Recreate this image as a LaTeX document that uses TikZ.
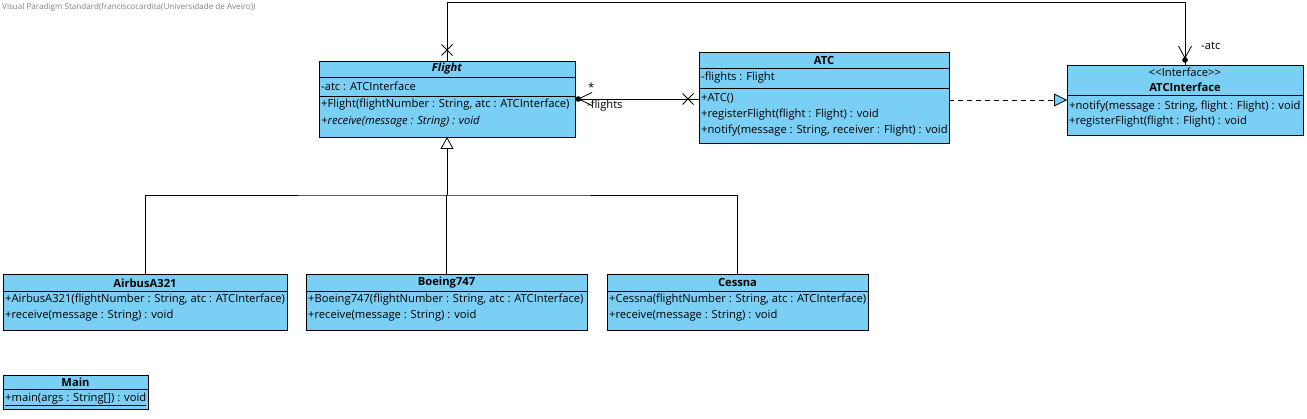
\documentclass[tikz,border=0pt]{standalone}
\usepackage{fontspec}
\setmainfont{Open Sans}
\usetikzlibrary{arrows.meta,calc}
\definecolor{vpblue}{RGB}{122,207,245}
\begin{document}
\begin{tikzpicture}[x=1pt,y=-1pt,
  cls/.style={draw=black, fill=vpblue, line width=0.8pt, anchor=north west, inner sep=0pt, outer sep=0pt},
  txt/.style={anchor=west, inner sep=0pt, font=\fontsize{11.2}{13}\selectfont},
  ttl/.style={anchor=center, inner sep=0pt, font=\fontsize{11.2}{13}\selectfont\bfseries},
  sep/.style={line width=0.8pt},
  conn/.style={line width=0.8pt},
  ]
\useasboundingbox (0,0) rectangle (1307,419);

\node[anchor=west, inner sep=0pt, text=black!50, font=\fontsize{8.1}{9}\selectfont] (wm) at (2,7) {Visual Paradigm Standard(franciscocardita(Universidade de Aveiro))};

% Flight
\node[cls, minimum width=256pt, minimum height=76pt] (flight) at (319,61) {};
\node[ttl] (flightT) at (447,68.5) {\itshape Flight};
\draw[sep] (319,77) -- (575,77);
\draw[sep] (319,96) -- (575,96);
\node[txt] (flightA) at (321,86.5) {-atc : ATCInterface};
\node[txt] (flightM1) at (321,105) {+Flight(flightNumber : String, atc : ATCInterface)};
\node[txt] (flightM2) at (321,121.5) {\itshape +receive(message : String) : void};

% ATC
\node[cls, minimum width=250pt, minimum height=91pt] (atc) at (699,52) {};
\node[ttl] (atcT) at (824,60.5) {ATC};
\draw[sep] (699,68.5) -- (949,68.5);
\draw[sep] (699,88) -- (949,88);
\node[txt] (atcA) at (701,78) {-flights : Flight};
\node[txt] (atcM1) at (701,98) {+ATC()};
\node[txt] (atcM2) at (701,114.5) {+registerFlight(flight : Flight) : void};
\node[txt] (atcM3) at (701,130.5) {+notify(message : String, receiver : Flight) : void};

% ATCInterface
\node[cls, minimum width=236pt, minimum height=70pt] (atci) at (1067,65) {};
\node[txt, anchor=center] (atciS) at (1185,72) {{<}{<}Interface{>}{>}};
\node[ttl] (atciT) at (1185,87.5) {ATCInterface};
\draw[sep] (1067,95) -- (1303,95);
\node[txt] (atciM1) at (1069,106.5) {+notify(message : String, flight : Flight) : void};
\node[txt] (atciM2) at (1069,122) {+registerFlight(flight : Flight) : void};

% AirbusA321
\node[cls, minimum width=284pt, minimum height=56pt] (airbus) at (3,274) {};
\node[ttl] (airbusT) at (145,283) {AirbusA321};
\draw[sep] (3,291) -- (287,291);
\node[txt] (airbusM1) at (5,300) {+AirbusA321(flightNumber : String, atc : ATCInterface)};
\node[txt] (airbusM2) at (5,315.5) {+receive(message : String) : void};

% Boeing747
\node[cls, minimum width=281pt, minimum height=56pt] (boeing) at (306,274) {};
\node[ttl] (boeingT) at (446.5,283) {Boeing747};
\draw[sep] (306,291) -- (587,291);
\node[txt] (boeingM1) at (308,300) {+Boeing747(flightNumber : String, atc : ATCInterface)};
\node[txt] (boeingM2) at (308,315.5) {+receive(message : String) : void};

% Cessna
\node[cls, minimum width=261pt, minimum height=56pt] (cessna) at (607,274) {};
\node[ttl] (cessnaT) at (737.5,283) {Cessna};
\draw[sep] (607,291) -- (868,291);
\node[txt] (cessnaM1) at (609,300) {+Cessna(flightNumber : String, atc : ATCInterface)};
\node[txt] (cessnaM2) at (609,315.5) {+receive(message : String) : void};

% Main
\node[cls, minimum width=145pt, minimum height=34pt] (main) at (3,375) {};
\node[ttl] (mainT) at (75.5,382) {Main};
\draw[sep] (3,389.5) -- (148,389.5);
\node[txt] (mainM1) at (5,399.5) {\underline{+main(args : String[]) : void}};

% Flight -- ATC association
\coordinate (fa) at (flight.east);
\draw[conn] (fa) -- (fa -| atc.west);
\fill ($(fa)+(3.2,0)$) circle (2.8pt);
\draw[conn] ($(fa)+(17,-6.5)$) -- ($(fa)+(3.5,0)$) -- ($(fa)+(17,6.5)$);
\coordinate (xa) at ($(fa -| atc.west)+(-11,0)$);
\draw[conn] ($(xa)+(-5.5,-5.5)$) -- ($(xa)+(5.5,5.5)$) ($(xa)+(-5.5,5.5)$) -- ($(xa)+(5.5,-5.5)$);
\node[txt] (mult) at (588,87) {*};
\node[txt] (role) at (587,106) {-flights};

% ATC realizes ATCInterface
\draw[conn, dash pattern=on 5pt off 4pt, -{Triangle[length=13pt,width=13pt,fill=vpblue]}] (atci.west -| atc.east) -- (atci.west);

% Flight -> ATCInterface association
\coordinate (topR) at (1185,2.5);
\draw[conn] (flight.north) |- (topR) -- (topR |- atci.north);
\coordinate (xb) at ($(flight.north)+(0,-11)$);
\draw[conn] ($(xb)+(-5.5,-5.5)$) -- ($(xb)+(5.5,5.5)$) ($(xb)+(-5.5,5.5)$) -- ($(xb)+(5.5,-5.5)$);
\coordinate (db) at ($(topR |- atci.north)+(0,-5)$);
\fill (db) circle (2.8pt);
\draw[conn] ($(db)+(-6.5,-14)$) -- ($(db)+(0,-2)$) -- ($(db)+(6.5,-14)$);
\node[txt] (roleatc) at (1201,45.5) {-atc};

% Generalizations
\coordinate (gen) at (flight.south |- 0,195);
\draw[conn, {Triangle[length=12pt,width=13pt,fill=white]}-] (flight.south) -- (gen);
\draw[conn] (airbus.north) |- (gen) -| (cessna.north);
\draw[conn] (boeing.north) -- (boeing.north |- gen);
\end{tikzpicture}
\end{document}
